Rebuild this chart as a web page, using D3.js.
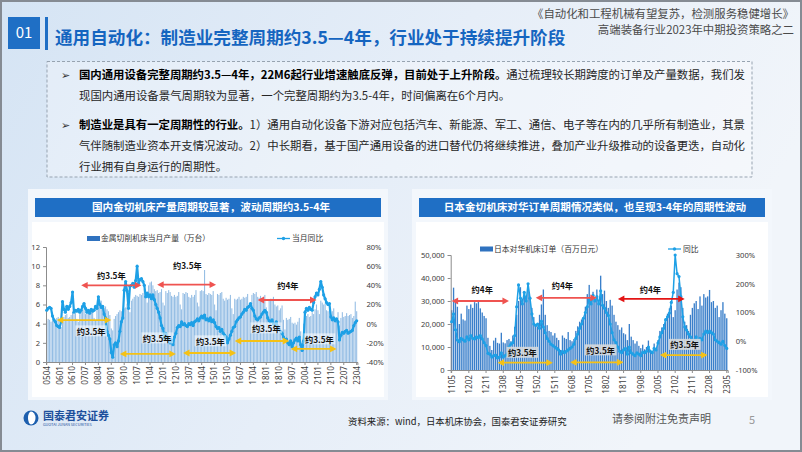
<!DOCTYPE html>
<html>
<head>
<meta charset="utf-8">
<script src="https://d3js.org/d3.v7.min.js"></script>
<style>
body { margin: 0; background: #fff; }
svg text { font-family: "Noto Sans CJK SC", "Noto Sans", sans-serif; }
</style>
</head>
<body>
<div id="slide"></div>
<script>
// ---------- chart data ----------
// Left chart: 金属切削机床当月产量（万台） + 当月同比, monthly 2005-04 .. 2023-04
var leftTicks = ["0504","0601","0610","0707","0804","0901","0910","1007","1104","1201","1210","1307","1404",
	"1501","1510","1607","1704","1801","1810","1907","2004","2101","2110","2207","2304"];

var leftOutput = [
	4.3, 4.5, 4.4, 4.2, 4.3, 4.5, 4.4, 4.6, 4.7,
	3.9, 3.6, 4.6, 4.7, 4.9, 5.0, 4.6, 4.7, 4.9, 5.2, 5.0, 5.1,
	4.5, 4.2, 5.0, 5.2, 5.3, 5.5, 5.0, 5.1, 5.2, 5.1, 5.3, 5.6,
	4.6, 4.3, 5.6, 6.0, 6.2, 6.4, 5.9, 5.7, 5.8, 5.5, 5.3, 4.9,
	3.5, 3.3, 4.5, 4.8, 5.0, 5.2, 5.4, 5.3, 5.5, 5.6, 5.7, 6.1,
	5.6, 5.2, 6.4, 6.6, 6.8, 7.0, 6.9, 6.8, 7.1, 7.0, 7.2, 7.6,
	6.8, 6.2, 8.0, 8.3, 8.4, 8.0, 7.6, 7.4, 7.5, 7.2, 7.3, 7.6,
	6.2, 5.9, 7.4, 7.2, 7.5, 7.3, 6.9, 6.8, 7.0, 6.8, 6.9, 7.3,
	6.0, 5.5, 7.2, 7.1, 7.3, 7.2, 6.8, 6.7, 7.0, 6.8, 7.0, 7.5,
	6.2, 5.8, 7.4, 7.5, 7.4, 9.6, 7.1, 7.0, 7.2, 7.1, 7.0, 7.4,
	6.0, 5.4, 7.1, 7.0, 7.2, 7.3, 6.6, 6.4, 6.7, 6.5, 6.6, 7.0,
	5.6, 5.0, 6.6, 6.5, 6.6, 6.8, 6.5, 6.6, 6.8, 6.7, 6.8, 7.1,
	5.9, 5.6, 7.0, 7.2, 7.1, 7.3, 6.8, 6.7, 6.9, 6.6, 6.8, 7.0,
	5.7, 5.2, 6.5, 6.6, 6.6, 6.8, 6.0, 5.8, 5.9, 5.4, 5.6, 5.9,
	4.4, 3.4, 4.6, 4.4, 4.5, 4.7, 4.1, 4.0, 4.1, 3.9, 4.2, 4.6,
	3.2, 2.0, 4.0, 4.6, 4.8, 5.0, 4.7, 4.8, 5.2, 5.0, 5.5, 6.0,
	5.4, 5.0, 6.4, 6.2, 6.0, 6.1, 5.4, 5.3, 5.5, 5.0, 5.3, 5.6,
	4.6, 4.2, 5.2, 3.8, 4.6, 5.2, 4.7, 4.8, 5.1, 4.8, 4.9, 5.0,
	4.6, 4.8, 6.3, 5.3
];

var leftYoy = [
	14, 16, 17, 16, 8, 4, 2, -2, -3,
	-4, 2, 23, 15, 12, 18, 15, 18, 22, 33, 12, 14,
	13, 15, 12, 14, 18, 21, 16, 12, 14, 11, 15, 13,
	14, 18, 16, 28, 20, 17, 18, 10, 6, -8, -12, -16,
	-30, -35, -22, -20, -24, -18, -8, 2, 6, 35, 44, 34,
	16, 39, 40, 42, 38, 45, 60, 42, 46, 47, 44, 40,
	28, 32, 28, 30, 26, 30, 25, 20, 16, 12, 6, -2,
	-5, -15, -10, -14, -18, -20, -17, -22, -14, -10, -4, -2,
	-3, 2, -1, 0, -2, -3, 0, -1, 1, -2, 2, 3,
	5, 3, 6, 8, 6, 9, 4, 5, 3, 6, 2, 4,
	1, -3, -5, -4, -8, -6, -10, -12, -14, -20, -16, -12,
	-8, -4, -3, 2, 4, 6, 7, 10, 12, 15, 14, 17,
	18, 21, 16, 14, 8, 5, 4, 6, 7, 10, 12, 14,
	12, 6, 3, 2, 4, 0, -2, 2, -3, -6, -8, -10,
	-14, -18, -16, -20, -22, -18, -24, -20, -17, -15, -18, -14,
	-22, -28, -18, 12, 16, 14, 17, 15, 14, 22, 28, 32,
	30, 36, 44, 38, 30, 26, 22, 20, 21, 7, 4, 6,
	3, 5, 2, -17, -12, -9, -10, -8, -7, -10, -9, -8,
	-7, -2, 1, 3
];

// cycle arrows on the left chart (months, level on left axis, label spot)
var leftNotes = [
	{from: "0704", to: "1010", level: 8.0, text: "约3.5年", at: "0901", textLevel: 9.0, color: "#ef5350"},
	{from: "1109", to: "1502", level: 8.07, text: "约3.5年", at: "1306", textLevel: 10.0, color: "#ef5350"},
	{from: "1707", to: "2012", level: 6.47, text: "约4年", at: "1904", textLevel: 7.9, color: "#ef5350"},
	{from: "0511", to: "0901", level: 4.38, text: "约3.5年", at: "0711", textLevel: 3.13, color: "#f5c116"},
	{from: "0907", to: "1210", level: 0.84, text: "约3.5年", at: "1109", textLevel: 2.4, color: "#f5c116"},
	{from: "1303", to: "1604", level: 0.94, text: "约3.5年", at: "1410", textLevel: 2.09, color: "#f5c116"},
	{from: "1603", to: "1905", level: 2.19, text: "约3.5年", at: "1801", textLevel: 3.44, color: "#f5c116"},
	{from: "1906", to: "2202", level: 1.36, text: "约3.5年", at: "2102", textLevel: 2.3, color: "#f5c116"}
];

// Right chart: 日本对华机床订单（百万日元） + 同比, monthly 2011-05 .. 2023-05
var rightTicks = ["1105","1202","1211","1308","1405","1502","1511","1608","1705","1802","1811","1908",
	"2005","2102","2111","2208","2305"];

var rightOrders = [
	26000, 35800, 30500, 27500, 20000, 24500, 22000, 21500,
	28000, 26500, 28500, 27000, 29500, 29000, 30000, 26800, 25000, 23500, 22500, 14000,
	10500, 8700, 12800, 14000, 11800, 11500, 16200, 12000, 11600, 13000, 13500, 12500,
	15000, 18800, 24000, 30000, 36000, 31000, 33000, 30500, 37000, 31000, 27000, 23000,
	20000, 19000, 24000, 28500, 35000, 24000, 19500, 17000, 16500, 15000, 16000, 14000,
	13000, 8700, 15000, 14000, 13500, 16500, 13000, 12500, 13500, 17000, 19000, 21000,
	22000, 23000, 27500, 33000, 37000, 31000, 34000, 30000, 35000, 30000, 41000, 33000,
	34500, 30000, 27000, 30500, 28000, 24000, 21000, 19500, 17500, 18500, 16000, 15500,
	13000, 20000, 14500, 13000, 11500, 12500, 10500, 9500, 11000, 9000, 10000, 12800,
	8000, 7500, 11500, 9500, 13000, 17000, 18500, 20000, 21500, 24500, 26800, 28000,
	23000, 26000, 35000, 38000, 36000, 27000, 21000, 19500, 17000, 24000, 27000, 29000,
	30000, 26500, 32000, 28000, 33000, 31500, 32000, 34800, 29500, 30000, 27000, 28000,
	23000, 26000, 29500, 24500, 22500
];

var rightYoy = [
	68, 95, 40, 4, -2, 10, 5, 0,
	15, 5, 20, 10, 8, 15, 12, 20, 8, -5, -15, -42,
	-45, -55, -50, -48, -58, -55, -40, -55, -50, -45, -20, -10,
	-5, 20, 120, 196, 150, 130, 170, 140, 200, 150, 95, 60,
	55, 60, 45, 70, 50, 30, 10, 0, -10, -15, -20, -25,
	-30, -45, -35, -40, -35, -30, -25, -20, -10, 10, 25, 45,
	60, 80, 100, 120, 145, 130, 160, 140, 155, 130, 175, 125,
	115, 100, 90, 60, 30, 5, -5, -20, -35, -40, -30, -25,
	-45, -20, -40, -45, -50, -40, -45, -50, -38, -40, -35, -20,
	-35, -40, -25, -30, -6, 15, 30, 45, 75, 85, 98, 135,
	170, 300, 235, 225, 155, 85, 50, 39, 25, 15, 5, -5,
	15, -5, 10, 5, 25, 35, 30, 35, 30, 25, 5, 0,
	-5, -10, 0, -15, -25
];

var rightNotes = [
	{from: "1105", to: "1311", level: 30000, text: "约4年", at: "1209", textLevel: 34800, color: "#ef5350"},
	{from: "1501", to: "1709", level: 31400, text: "约4年", at: "1603", textLevel: 36500, color: "#ef5350"},
	{from: "1808", to: "2107", level: 30900, text: "约4年", at: "2001", textLevel: 34800, color: "#e31414"},
	{from: "1305", to: "1510", level: 3200, text: "约3.5年", at: "1406", textLevel: 7200, color: "#f5c116", box: true},
	{from: "1607", to: "1811", level: 3350, text: "约3.5年", at: "1711", textLevel: 8260, color: "#f5c116", box: true},
	{from: "2006", to: "2207", level: 6500, text: "约3.5年", at: "2107", textLevel: 10650, color: "#f5c116", box: true}
];

// ---------- helpers ----------
// "YYMM" codes for consecutive months
function monthCodes(year, month, count) {
	var out = [];
	for (var i = 0; i < count; i++) {
		var m = month - 1 + i;
		var y = year + Math.floor(m / 12);
		out.push(String(y).slice(2) + String(m % 12 + 1).padStart(2, "0"));
	}
	return out;
}

function drawArrow(g, x1, x2, y, color) {
	var head = 6.5, half = 3.4;
	g.append("line")
		.attr("x1", x1 + head - 1).attr("x2", x2 - head + 1)
		.attr("y1", y).attr("y2", y)
		.attr("stroke", color).attr("stroke-width", 1.8);
	g.append("path")
		.attr("d", "M" + x1 + "," + y + "L" + (x1 + head) + "," + (y - half) + "L" + (x1 + head) + "," + (y + half) + "Z")
		.attr("fill", color);
	g.append("path")
		.attr("d", "M" + x2 + "," + y + "L" + (x2 - head) + "," + (y - half) + "L" + (x2 - head) + "," + (y + half) + "Z")
		.attr("fill", color);
}

function styleAxis(sel) {
	sel.selectAll("path.domain").attr("stroke", "#8c8c8c");
	sel.selectAll(".tick line").attr("stroke", "#8c8c8c");
	sel.selectAll("text").attr("fill", "#404040").style("font-size", "7.6px")
		.style("font-family", "\"Noto Sans\", \"Liberation Sans\", sans-serif");
}

// one combo chart: thin bars on the left axis, yoy line on the right axis
function drawCombo(svg, o) {
	var months = monthCodes(o.startYear, o.startMonth, o.bars.length);

	var x = d3.scaleBand().domain(months).range(o.xRange);
	var yL = d3.scaleLinear().domain(o.leftDomain).range(o.yRange);
	var yR = d3.scaleLinear().domain(o.rightDomain).range(o.yRange);
	var cx = function(m) { return x(m) + x.bandwidth() / 2; };
	var bw = x.bandwidth() * o.barShare;

	var g = svg.append("g");

	g.append("g").selectAll("rect")
		.data(o.bars)
		.enter().append("rect")
		.attr("x", function(d, i) { return cx(months[i]) - bw / 2; })
		.attr("width", bw)
		.attr("y", function(d) { return yL(d); })
		.attr("height", function(d) { return yL(0) - yL(d); })
		.attr("fill", o.barColor);

	// left axis
	var axL = g.append("g")
		.attr("transform", "translate(" + o.xRange[0] + ",0)")
		.call(d3.axisLeft(yL).tickValues(o.leftTicks).tickSize(3).tickPadding(3).tickFormat(o.leftFormat));
	styleAxis(axL);

	// right axis, no line
	var axR = g.append("g")
		.attr("transform", "translate(" + o.xRange[1] + ",0)")
		.call(d3.axisRight(yR).tickValues(o.rightTicks).tickSize(0).tickPadding(o.rightPad)
			.tickFormat(function(d) { return d + "%"; }));
	axR.select("path.domain").remove();
	styleAxis(axR);

	// bottom axis with rotated month labels
	var axB = g.append("g")
		.attr("transform", "translate(0," + o.yRange[0] + ")")
		.call(d3.axisBottom(x).tickValues(o.ticks).tickSize(3));
	styleAxis(axB);
	axB.selectAll("text")
		.attr("transform", "rotate(-90)")
		.attr("x", -o.labelGap)
		.attr("y", 0)
		.attr("dy", "0.35em")
		.style("text-anchor", "end")
		.style("font-size", "8.2px");

	// yoy line
	var line = d3.line()
		.x(function(d, i) { return cx(months[i]); })
		.y(function(d) { return yR(d); });

	g.append("path")
		.datum(o.line)
		.attr("d", line)
		.attr("fill", "none")
		.attr("stroke", o.lineColor)
		.attr("stroke-width", o.lineWidth)
		.attr("stroke-linejoin", "round");

	g.append("g").selectAll("circle")
		.data(o.line)
		.enter().append("circle")
		.attr("cx", function(d, i) { return cx(months[i]); })
		.attr("cy", function(d) { return yR(d); })
		.attr("r", o.dot)
		.attr("fill", o.lineColor);

	// cycle arrows and their labels
	var notes = g.append("g");
	o.notes.forEach(function(n) {
		drawArrow(notes, cx(n.from), cx(n.to), yL(n.level), n.color);
	});
	o.notes.forEach(function(n) {
		var t = notes.append("text")
			.attr("x", cx(n.at))
			.attr("y", yL(n.textLevel))
			.attr("dy", "0.35em")
			.attr("text-anchor", "middle")
			.style("font-size", "8.2px")
			.style("font-weight", "bold")
			.attr("fill", "#111")
			.text(n.text);
		var bb = t.node().getBBox();
		notes.insert("rect", function() { return t.node(); })
			.attr("x", bb.x - 1.5).attr("y", bb.y + 0.5)
			.attr("width", bb.width + 3).attr("height", bb.height - 1)
			.attr("fill", n.box ? "#d6d9dd" : "#ffffff")
			.attr("opacity", n.box ? 0.9 : 0.55);
	});
}

// ---------- slide ----------
var svg = d3.select("#slide").append("svg")
	.attr("width", 802)
	.attr("height", 452);

var defs = svg.append("defs");
var bg = defs.append("linearGradient").attr("id", "bg")
	.attr("x1", "0").attr("y1", "0").attr("x2", "1").attr("y2", "0.3");
bg.append("stop").attr("offset", "0").attr("stop-color", "#d5e4f4");
bg.append("stop").attr("offset", "0.55").attr("stop-color", "#e6eef8");
bg.append("stop").attr("offset", "1").attr("stop-color", "#f1f5fa");

svg.append("rect").attr("width", 802).attr("height", 452).attr("fill", "url(#bg)");

// header
svg.append("rect").attr("x", 8).attr("y", 17).attr("width", 32).attr("height", 32).attr("fill", "#1f6fc5");
svg.append("text").attr("x", 24).attr("y", 33).attr("dy", "0.36em").attr("text-anchor", "middle")
	.attr("fill", "#fff").style("font-size", "15px").text("01");
svg.append("rect").attr("x", 45).attr("y", 17).attr("width", 3).attr("height", 33).attr("fill", "#1f6fc5");
svg.append("text").attr("x", 55).attr("y", 44)
	.attr("fill", "#1565c0").style("font-size", "17.6px").style("font-weight", "bold")
	.text("通用自动化：制造业完整周期约3.5—4年，行业处于持续提升阶段");

svg.append("text").attr("x", 794).attr("y", 18).attr("text-anchor", "end")
	.attr("fill", "#4a4a4a").style("font-size", "11.4px")
	.text("《自动化和工程机械有望复苏，检测服务稳健增长》");
svg.append("text").attr("x", 794).attr("y", 34).attr("text-anchor", "end")
	.attr("fill", "#4a4a4a").style("font-size", "11.4px")
	.text("高端装备行业2023年中期投资策略之二");

// text box
svg.append("rect").attr("x", 47).attr("y", 61.5).attr("width", 705).attr("height", 115.5)
	.attr("fill", "#ffffff").attr("fill-opacity", 0.3)
	.attr("stroke", "#97a3b0").attr("stroke-width", 1).attr("stroke-dasharray", "3,2");

var para = [
	{y: 79, bullet: true, fit: true, bold: "国内通用设备完整周期约3.5—4年，22M6起行业增速触底反弹，目前处于上升阶段。", rest: "通过梳理较长期跨度的订单及产量数据，我们发"},
	{y: 100, bullet: false, fit: false, bold: "", rest: "现国内通用设备景气周期较为显著，一个完整周期约为3.5-4年，时间偏离在6个月内。"},
	{y: 129, bullet: true, fit: true, bold: "制造业是具有一定周期性的行业。", rest: "1）通用自动化设备下游对应包括汽车、新能源、军工、通信、电子等在内的几乎所有制造业，其景"},
	{y: 150, bullet: false, fit: true, bold: "", rest: "气伴随制造业资本开支情况波动。2）中长期看，基于国产通用设备的进口替代仍将继续推进，叠加产业升级推动的设备更迭，自动化"},
	{y: 171, bullet: false, fit: false, bold: "", rest: "行业拥有自身运行的周期性。"}
];
para.forEach(function(p) {
	if (p.bullet) {
		svg.append("text").attr("x", 61).attr("y", p.y).attr("fill", "#333")
			.style("font-size", "11px").style("font-family", "\"DejaVu Sans\"").text("➢");
	}
	var t = svg.append("text").attr("x", 79).attr("y", p.y).style("font-size", "11.4px");
	if (p.fit) t.attr("textLength", 666).attr("lengthAdjust", "spacing");
	if (p.bold) t.append("tspan").attr("fill", "#000").style("font-weight", "bold").text(p.bold);
	t.append("tspan").attr("fill", "#262626").text(p.rest);
});

// chart panels
[{x: 28, title: "国内金切机床产量周期较显著，波动周期约3.5-4年"},
 {x: 412, title: "日本金切机床对华订单周期情况类似，也呈现3-4年的周期性波动"}].forEach(function(p) {
	svg.append("rect").attr("x", p.x).attr("y", 189).attr("width", 360).attr("height", 211).attr("fill", "#f3f7fc");
	svg.append("rect").attr("x", p.x + 4).attr("y", 222).attr("width", 352).attr("height", 175).attr("fill", "#ffffff");
	svg.append("rect").attr("x", p.x + 7).attr("y", 198).attr("width", 346).attr("height", 19).attr("fill", "#1f6fc5");
	svg.append("text").attr("x", p.x + 183).attr("y", 207.5).attr("dy", "0.36em").attr("text-anchor", "middle")
		.attr("fill", "#fff").style("font-size", "10.6px").style("font-weight", "bold").text(p.title);
});

// legends
function legend(x, y, barLabel, lineX, lineLabel) {
	svg.append("rect").attr("x", x).attr("y", y - 2.5).attr("width", 13).attr("height", 5).attr("fill", "#2f72bf");
	svg.append("text").attr("x", x + 14).attr("y", y).attr("dy", "0.36em").attr("fill", "#333")
		.style("font-size", "7.8px").text(barLabel);
	svg.append("line").attr("x1", lineX).attr("x2", lineX + 13).attr("y1", y).attr("y2", y)
		.attr("stroke", "#1ea0e6").attr("stroke-width", 1.3);
	svg.append("circle").attr("cx", lineX + 6.5).attr("cy", y).attr("r", 1.7).attr("fill", "#1ea0e6");
	svg.append("text").attr("x", lineX + 15).attr("y", y).attr("dy", "0.36em").attr("fill", "#333")
		.style("font-size", "7.8px").text(lineLabel);
}
legend(87, 238.5, "金属切削机床当月产量（万台）", 277, "当月同比");
legend(480, 249, "日本对华机床订单（百万日元）", 668, "同比");

drawCombo(svg, {
	startYear: 2005, startMonth: 4,
	bars: leftOutput, line: leftYoy, ticks: leftTicks, notes: leftNotes,
	xRange: [46, 357.4], yRange: [362, 247],
	leftDomain: [0, 12], leftTicks: [0, 2, 4, 6, 8, 10, 12], leftFormat: d3.format("d"),
	rightDomain: [-40, 80], rightTicks: [-40, -20, 0, 20, 40, 60, 80], rightPad: 9,
	barColor: "#94bde4", barShare: 0.74,
	lineColor: "#1ea0e6", lineWidth: 2.2, dot: 1.6, labelGap: 4
});

drawCombo(svg, {
	startYear: 2011, startMonth: 5,
	bars: rightOrders, line: rightYoy, ticks: rightTicks, notes: rightNotes,
	xRange: [450.7, 727.7], yRange: [370, 255],
	leftDomain: [0, 50000], leftTicks: [0, 10000, 20000, 30000, 40000, 50000], leftFormat: d3.format(","),
	rightDomain: [-100, 300], rightTicks: [-100, 0, 100, 200, 300], rightPad: 8,
	barColor: "#3a7fca", barShare: 0.7,
	lineColor: "#1ea0e6", lineWidth: 1.5, dot: 1.6, labelGap: 5
});

// footer
svg.append("circle").attr("cx", 31).attr("cy", 418).attr("r", 7.5).attr("fill", "#1d5fae");
svg.append("path").attr("d", "M31,411.5 A4.5,6.5 0 0 1 31,424.5 A3,6.5 0 0 1 31,411.5Z").attr("fill", "#fff");
svg.append("text").attr("x", 43).attr("y", 416).attr("dy", "0.36em").attr("fill", "#1d4f9c")
	.style("font-size", "11px").style("font-weight", "bold").text("国泰君安证券");
svg.append("text").attr("x", 43).attr("y", 425.5).attr("fill", "#1d4f9c")
	.style("font-size", "3.8px").text("GUOTAI JUNAN SECURITIES");

svg.append("text").attr("x", 348).attr("y", 422).attr("dy", "0.36em").attr("fill", "#222")
	.style("font-size", "9.4px").text("资料来源：wind，日本机床协会，国泰君安证券研究");
svg.append("text").attr("x", 612).attr("y", 419).attr("dy", "0.36em").attr("fill", "#555")
	.style("font-size", "11px").text("请参阅附注免责声明");
svg.append("text").attr("x", 749).attr("y", 420).attr("dy", "0.36em").attr("fill", "#999")
	.style("font-size", "11px").text("5");

// slide frame
svg.append("rect").attr("x", 1).attr("y", 1).attr("width", 800).attr("height", 450)
	.attr("fill", "none").attr("stroke", "#858b93").attr("stroke-width", 2);
</script>
</body>
</html>
